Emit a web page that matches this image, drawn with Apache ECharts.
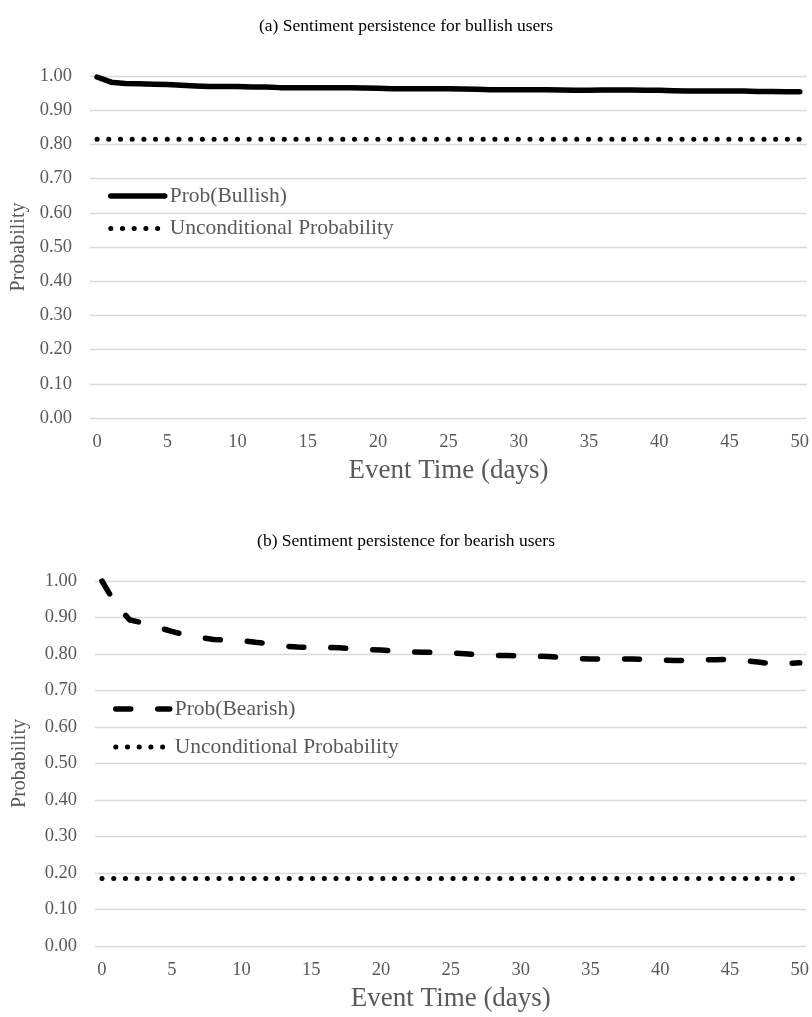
<!DOCTYPE html>
<html>
<head>
<meta charset="utf-8">
<script src="https://cdn.jsdelivr.net/npm/echarts@6/dist/echarts.min.js"></script>
<style>
html,body{margin:0;padding:0;background:#fff;}
#chart{width:812px;height:1017px;}
</style>
</head>
<body>
<div id="chart"></div>
<script>
// ---- data ----
const days = ['0','1','2','3','4','5','6','7','8','9','10','11','12','13','14','15','16','17','18','19','20',
  '21','22','23','24','25','26','27','28','29','30','31','32','33','34','35','36','37','38','39','40',
  '41','42','43','44','45','46','47','48','49','50'];
const yTicks = ['0.00','0.10','0.20','0.30','0.40','0.50','0.60','0.70','0.80','0.90','1.00'];

const probBullish = [0.997,0.982,0.978,0.977,0.976,0.975,0.973,0.971,0.969,0.969,0.969,
  0.968,0.968,0.966,0.966,0.966,0.966,0.966,0.966,0.965,0.964,
  0.963,0.963,0.963,0.963,0.963,0.962,0.961,0.960,0.960,0.960,
  0.960,0.960,0.959,0.958,0.958,0.959,0.959,0.959,0.958,0.958,
  0.957,0.956,0.956,0.956,0.956,0.956,0.955,0.955,0.954,0.954];

const probBearish = [1.000,0.935,0.893,0.885,0.873,0.862,0.852,0.845,0.840,0.838,0.837,
  0.832,0.828,0.822,0.819,0.818,0.818,0.817,0.814,0.812,0.811,
  0.808,0.806,0.805,0.804,0.803,0.801,0.798,0.796,0.796,0.795,
  0.794,0.793,0.790,0.788,0.786,0.786,0.786,0.786,0.785,0.784,
  0.782,0.782,0.784,0.784,0.786,0.782,0.778,0.773,0.774,0.776];

// unconditional probabilities (flat lines from day 0 to day 50)
const uncondBullish = [[0, 0.815], [50, 0.815]];
const uncondBearish = [[0, 0.185], [50, 0.185]];

const titles = ['(a) Sentiment persistence for bullish users', '(b) Sentiment persistence for bearish users'];
const xName = 'Event Time (days)';
const yName = 'Probability';
const legendA = ['Prob(Bullish)', 'Unconditional Probability'];
const legendB = ['Prob(Bearish)', 'Unconditional Probability '];

// ---- chart ----
const FONT = '"Liberation Serif", "Times New Roman", serif';
const GRAY = '#595959';

function xAxisFor(i) {
  return {
    gridIndex: i, type: 'category', data: days, boundaryGap: true,
    axisLine: {show: false}, axisTick: {show: false},
    axisLabel: {interval: 4, color: GRAY, fontSize: 18.5, fontFamily: FONT, margin: 15},
    name: xName, nameLocation: 'middle', nameGap: 39,
    nameTextStyle: {color: GRAY, fontSize: 27, fontFamily: FONT}
  };
}
function yAxisFor(i, gap) {
  return {
    gridIndex: i, type: 'value', min: 0, max: 1, interval: 0.1,
    axisLine: {show: false}, axisTick: {show: false},
    splitLine: {lineStyle: {color: '#d9d9d9', width: 1.3}},
    axisLabel: {color: GRAY, fontSize: 18.5, fontFamily: FONT, margin: 18,
      formatter: (v) => yTicks[Math.round(v * 10)]},
    name: yName, nameLocation: 'middle', nameRotate: 90, nameGap: gap,
    nameTextStyle: {color: GRAY, fontSize: 20, fontFamily: FONT}
  };
}
const solidStyle = {color: '#000', width: 5.5, type: 'solid', cap: 'round', join: 'round'};
const dashStyle = {color: '#000', width: 5.5, type: [15, 27], cap: 'round', join: 'round'};
const dotted = {color: '#000', width: 5, type: [0.1, 11.6], cap: 'round'};
const hiddenSymbol = {opacity: 0, color: 'transparent', borderWidth: 0};

const option = {
  backgroundColor: '#fff',
  animation: false,
  title: [
    {text: titles[0], left: 'center', top: 12, textStyle: {fontSize: 17.5, fontWeight: 'normal', color: '#000', fontFamily: FONT}},
    {text: titles[1], left: 'center', top: 527, textStyle: {fontSize: 17.5, fontWeight: 'normal', color: '#000', fontFamily: FONT}}
  ],
  grid: [
    {left: 90, right: 5, top: 76, height: 342},
    {left: 95, right: 5, top: 581, height: 365}
  ],
  xAxis: [xAxisFor(0), xAxisFor(1)],
  yAxis: [yAxisFor(0, 60), yAxisFor(1, 65)],
  legend: [
    {orient: 'vertical', left: 103, top: 180, itemWidth: 54, itemHeight: 12, itemGap: 10.5,
      itemStyle: hiddenSymbol,
      data: [
        {name: legendA[0], lineStyle: solidStyle, itemStyle: hiddenSymbol},
        {name: legendA[1], lineStyle: dotted, itemStyle: hiddenSymbol}
      ],
      textStyle: {color: GRAY, fontSize: 21.5, fontFamily: FONT, lineHeight: 22}},
    {orient: 'vertical', left: 108, top: 693, itemWidth: 54, itemHeight: 12, itemGap: 16,
      itemStyle: hiddenSymbol,
      data: [
        {name: legendB[0], lineStyle: dashStyle, itemStyle: hiddenSymbol},
        {name: legendB[1], lineStyle: dotted, itemStyle: hiddenSymbol}
      ],
      textStyle: {color: GRAY, fontSize: 21.5, fontFamily: FONT, lineHeight: 22}}
  ],
  series: [
    {name: legendA[0], type: 'line', xAxisIndex: 0, yAxisIndex: 0, data: probBullish,
      symbol: 'none', lineStyle: solidStyle, itemStyle: {color: '#000'}},
    {name: legendA[1], type: 'line', xAxisIndex: 0, yAxisIndex: 0, data: uncondBullish,
      symbol: 'none', lineStyle: dotted, itemStyle: {color: '#000'}},
    {name: legendB[0], type: 'line', xAxisIndex: 1, yAxisIndex: 1, data: probBearish,
      symbol: 'none', lineStyle: dashStyle, itemStyle: {color: '#000'}},
    {name: legendB[1], type: 'line', xAxisIndex: 1, yAxisIndex: 1, data: uncondBearish,
      symbol: 'none', lineStyle: dotted, itemStyle: {color: '#000'}}
  ]
};
const chart = echarts.init(document.getElementById('chart'), null, {renderer: 'canvas'});
chart.setOption(option);
</script>
</body>
</html>
